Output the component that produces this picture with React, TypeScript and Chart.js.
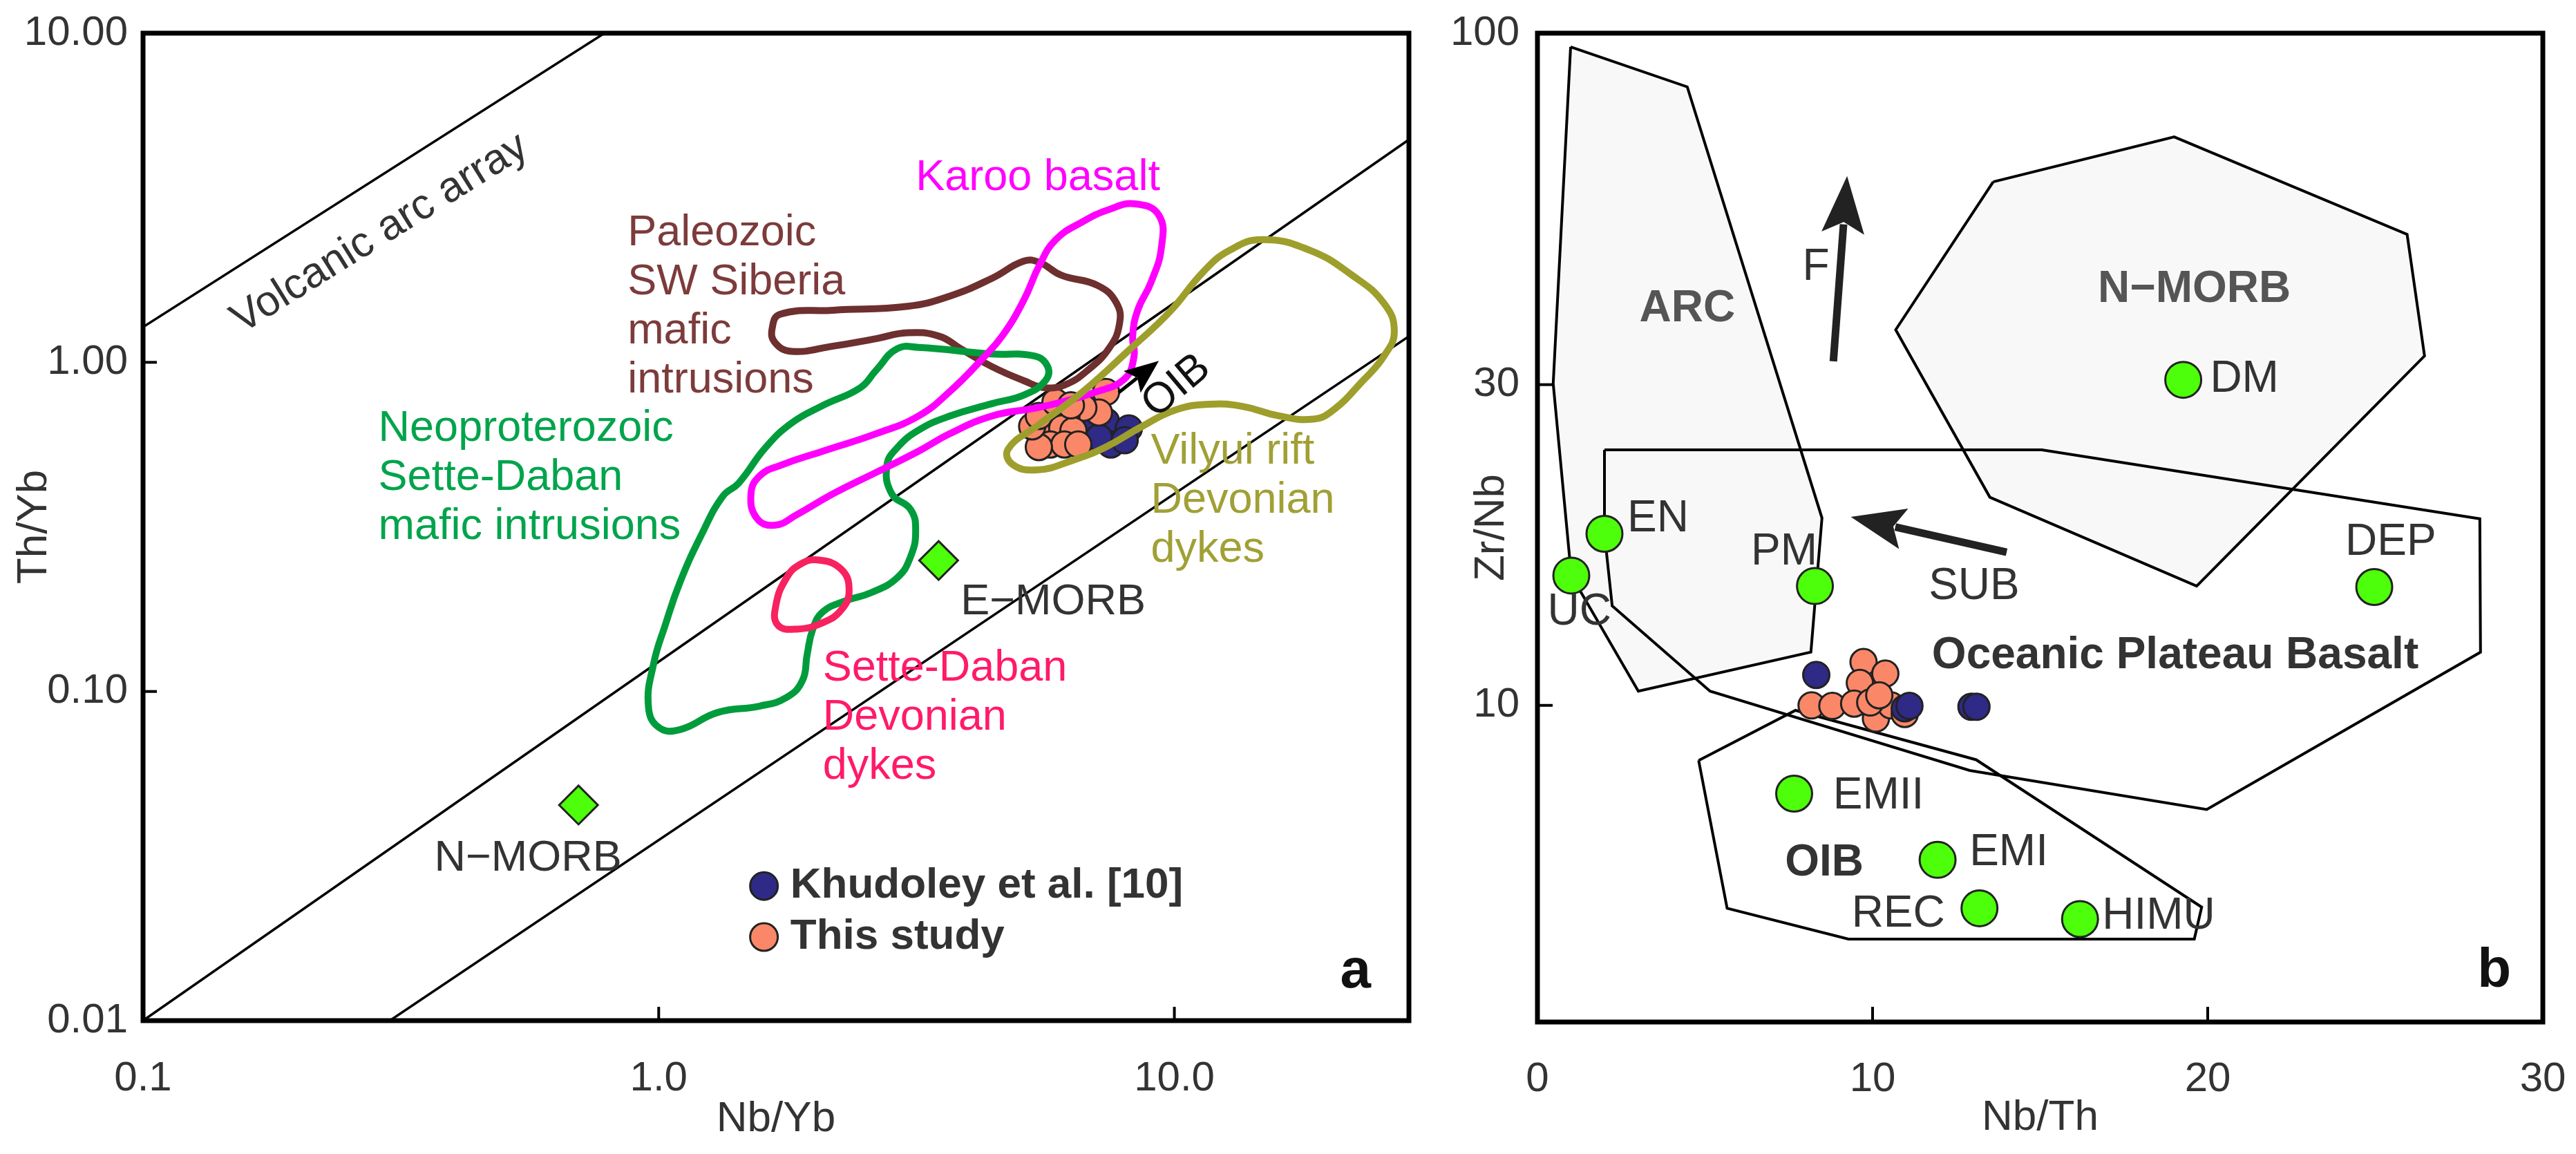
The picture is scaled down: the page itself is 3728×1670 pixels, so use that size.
import React, { useEffect, useRef } from 'react';
import { Chart, registerables } from 'chart.js';

Chart.register(...registerables);

const FONT = '"Liberation Sans", Arial, Helvetica, sans-serif';

type Pair = [number, number];

// ---------------- Panel a : Th/Yb vs Nb/Yb ----------------
const nbYbTicks = [0.1, 1, 10];
const thYbTicks = [0.01, 0.1, 1, 10];

const volcanicArcArray: Pair[] = [[0.1, 1.28], [0.785, 10]];
const morbOibUpper: Pair[] = [[0.1, 0.01], [28.5, 4.75]];
const morbOibLower: Pair[] = [[0.301, 0.01], [28.5, 1.2]];

const karooBasalt: Pair[] = [
  [8.39, 3.03], [9.33, 2.8], [9.44, 2.24], [9.01, 1.75], [8.49, 1.44], [8.3, 1.2], [8.35, 1.04],
  [8.0, 0.89], [7.0, 0.81], [6.0, 0.755], [5.35, 0.725], [4.43, 0.687], [3.67, 0.607], [3.19, 0.537],
  [2.64, 0.463], [2.18, 0.399], [1.85, 0.344], [1.68, 0.32], [1.55, 0.336], [1.51, 0.399],
  [1.57, 0.452], [1.72, 0.486], [2.08, 0.537], [2.64, 0.607], [3.19, 0.687], [3.67, 0.816],
  [4.23, 1.02], [4.65, 1.21], [5.11, 1.55], [5.48, 1.98], [5.89, 2.36], [6.63, 2.67], [7.46, 2.91],
];

const paleozoicSiberia: Pair[] = [
  [1.66, 1.27], [1.72, 1.4], [2.18, 1.44], [3.04, 1.48], [3.67, 1.59], [4.43, 1.8], [5.11, 2.03],
  [5.48, 2.01], [6.03, 1.84], [7.11, 1.71], [7.73, 1.51], [7.82, 1.3], [7.46, 1.1], [6.79, 0.946],
  [6.17, 0.858], [5.62, 0.837], [5.11, 0.879], [4.43, 0.97], [3.85, 1.1], [3.5, 1.2], [3.04, 1.23],
  [2.64, 1.18], [2.18, 1.12], [1.81, 1.08], [1.68, 1.15],
];

const neoproterozoicSetteDaban: Pair[] = [
  [2.9, 1.1], [3.19, 1.11], [4.43, 1.06], [5.35, 1.045], [5.68, 0.97], [5.62, 0.879], [5.11, 0.796],
  [4.43, 0.749], [3.67, 0.687], [3.19, 0.622], [2.9, 0.55], [2.77, 0.486], [2.83, 0.399], [3.08, 0.357],
  [3.15, 0.308], [3.08, 0.257], [2.9, 0.2215], [2.58, 0.1995], [2.29, 0.188], [2.08, 0.1744],
  [1.99, 0.1547], [1.94, 0.1293], [1.9, 0.108], [1.77, 0.0959], [1.57, 0.0903], [1.3, 0.0863],
  [1.1, 0.0766], [1.0, 0.0778], [0.955, 0.0903], [0.978, 0.1218], [1.03, 0.1594], [1.1, 0.215],
  [1.21, 0.299], [1.33, 0.391], [1.43, 0.43], [1.61, 0.55], [1.81, 0.654], [2.08, 0.739],
  [2.46, 0.837], [2.64, 0.946],
];

const vilyuiRift: Pair[] = [
  [14.8, 2.36], [18.3, 2.19], [22.1, 1.84], [25.5, 1.51], [26.7, 1.24], [25.5, 1.045], [23.2, 0.879],
  [20.3, 0.715], [18.6, 0.672], [15.9, 0.688], [13.6, 0.734], [11.7, 0.746], [10.03, 0.716],
  [8.6, 0.635], [7.36, 0.553], [6.31, 0.502], [5.41, 0.471], [4.85, 0.49], [4.76, 0.545],
  [5.41, 0.64], [6.65, 0.815], [8.17, 1.09], [9.82, 1.43], [11.4, 1.89], [12.8, 2.19],
];

const setteDabanDevonian: Pair[] = [
  [2.03, 0.251], [2.26, 0.235], [2.34, 0.2024], [2.26, 0.177], [2.08, 0.1618], [1.85, 0.1547],
  [1.7, 0.1594], [1.69, 0.185], [1.77, 0.2215], [1.87, 0.242],
];

const morbReferenceA: Pair[] = [[0.699, 0.0452], [3.49, 0.25]];

const khudoleyA: Pair[] = [
  [6.86, 0.63], [7.37, 0.661], [8.16, 0.63], [7.53, 0.563], [7.14, 0.591], [8.01, 0.58],
];
const thisStudyA: Pair[] = [
  [7.37, 0.813], [7.14, 0.704], [6.66, 0.728], [6.18, 0.694], [5.88, 0.728], [5.63, 0.639],
  [6.06, 0.63], [6.37, 0.62], [5.75, 0.563], [6.12, 0.563], [6.51, 0.563], [5.46, 0.553],
  [5.3, 0.639], [5.46, 0.687], [5.88, 0.757], [6.3, 0.74],
];
const oibArrowA: Pair[] = [[7.8, 0.81], [9.33, 1.01]];

// ---------------- Panel b : Zr/Nb vs Nb/Th ----------------
const nbThTicks = [0, 10, 20, 30];
const zrNbTicks = [10, 30, 100];

const arcField: Pair[] = [
  [0.99, 95.4], [4.47, 83.2], [8.49, 19.0], [8.16, 12.0], [3.01, 10.5], [1.01, 15.6], [0.47, 30.1],
];
const nMorbField: Pair[] = [
  [13.6, 60.1], [19.0, 70.1], [25.95, 50.2], [26.47, 33.1], [19.67, 15.05], [13.5, 20.4], [10.69, 36.2],
];
const plateauField: Pair[] = [
  [2.0, 24.0], [15.05, 24.0], [28.12, 18.95], [28.14, 12.0], [19.97, 7.0], [12.9, 8.0],
  [5.15, 10.5], [2.23, 14.06], [2.0, 18.0],
];
const oibField: Pair[] = [
  [4.81, 8.28], [7.7, 9.83], [13.09, 8.3], [19.82, 5.01], [19.6, 4.49], [9.28, 4.49], [5.66, 4.99],
];
const mantleEndMembers: Pair[] = [
  [1.01, 15.6], [2.0, 18.0], [8.28, 15.05], [19.27, 30.5], [24.97, 15.0],
  [7.66, 7.39], [11.94, 5.89], [13.19, 4.99], [16.19, 4.81],
];
const khudoleyB: Pair[] = [[8.32, 11.1], [10.96, 9.9], [11.1, 9.98], [12.95, 9.95], [13.1, 9.95]];
const thisStudyB: Pair[] = [
  [9.73, 11.6], [10.38, 11.15], [9.62, 10.8], [8.18, 10.0], [8.8, 9.98], [9.45, 10.06],
  [10.1, 9.56], [10.55, 10.0], [10.96, 9.71], [9.93, 10.1], [10.2, 10.35],
];
const fArrow: Pair[] = [[8.83, 32.5], [9.24, 61.3]];
const subArrow: Pair[] = [[14.0, 16.9], [9.35, 19.07]];

// ---------------- helpers ----------------
const toXY = (a: Pair[]) => a.map(([x, y]) => ({ x, y }));
const loopData = (a: Pair[]) => toXY([a[a.length - 1], ...a, a[0], a[1]]);
const closedData = (a: Pair[]) => toXY([...a, a[0]]);

const ORANGE = '#fa8868';
const BLUE = '#2f2a86';
const LIME = '#4dff0a';

function contour(label: string, pts: Pair[], color: string, order: number) {
  const n = pts.length;
  return {
    label,
    data: loopData(pts),
    showLine: true,
    borderColor: color,
    backgroundColor: color,
    borderWidth: 10,
    tension: 0.45,
    pointRadius: 0,
    pointHoverRadius: 0,
    fill: false,
    order,
    borderCapStyle: 'round',
    borderJoinStyle: 'round',
    segment: {
      borderColor: (c: any) =>
        c.p0DataIndex === 0 || c.p0DataIndex === n + 1 ? 'rgba(0,0,0,0)' : undefined,
    },
  };
}

function refLine(label: string, pts: Pair[], order: number, width = 3.5) {
  return {
    label,
    data: toXY(pts),
    showLine: true,
    borderColor: '#000',
    backgroundColor: '#000',
    borderWidth: width,
    pointRadius: 0,
    pointHoverRadius: 0,
    tension: 0,
    fill: false,
    order,
    clip: 0,
  };
}

function polygon(label: string, pts: Pair[], fillColor: string | null, order: number) {
  return {
    label,
    data: closedData(pts),
    showLine: true,
    borderColor: '#000',
    backgroundColor: fillColor || 'rgba(0,0,0,0)',
    borderWidth: 4,
    pointRadius: 0,
    pointHoverRadius: 0,
    tension: 0,
    fill: fillColor ? 'shape' : false,
    borderJoinStyle: 'miter',
    order,
  };
}

function dots(label: string, pts: Pair[], color: string, radius: number, order: number, style = 'circle') {
  return {
    label,
    data: toXY(pts),
    showLine: false,
    pointStyle: style,
    pointRadius: radius,
    pointHoverRadius: radius,
    backgroundColor: color,
    pointBackgroundColor: color,
    borderColor: '#222',
    pointBorderColor: '#222',
    pointBorderWidth: 3,
    borderWidth: 3,
    order,
  };
}

// ---------------- plugins ----------------
const framePlugin = {
  id: 'frame',
  afterDatasetsDraw(chart: any, _args: any, opts: any) {
    const { ctx, chartArea: a, scales } = chart;
    ctx.save();
    ctx.strokeStyle = '#000';
    ctx.lineWidth = 4;
    for (const v of opts.xTicks || []) {
      const px = scales.x.getPixelForValue(v);
      ctx.beginPath();
      ctx.moveTo(px, a.bottom);
      ctx.lineTo(px, a.bottom - opts.tickLen);
      ctx.stroke();
    }
    for (const v of opts.yTicks || []) {
      const py = scales.y.getPixelForValue(v);
      ctx.beginPath();
      ctx.moveTo(a.left, py);
      ctx.lineTo(a.left + opts.tickLen, py);
      ctx.stroke();
    }
    ctx.lineWidth = 7;
    ctx.lineJoin = 'miter';
    ctx.strokeRect(a.left, a.top, a.right - a.left, a.bottom - a.top);
    ctx.restore();
  },
};

const notesPlugin = {
  id: 'notes',
  afterDatasetsDraw(chart: any, _args: any, opts: any) {
    const { ctx, chartArea: area, scales } = chart;
    const X = (v: number) => scales.x.getPixelForValue(v);
    const Y = (v: number) => scales.y.getPixelForValue(v);
    ctx.save();
    for (const ar of opts.arrows || []) {
      const x1 = X(ar.pts[0][0]);
      const y1 = Y(ar.pts[0][1]);
      const x2 = X(ar.pts[1][0]);
      const y2 = Y(ar.pts[1][1]);
      const ang = Math.atan2(y2 - y1, x2 - x1);
      const c = Math.cos(ang);
      const s = Math.sin(ang);
      const bx = x2 - c * ar.head;
      const by = y2 - s * ar.head;
      ctx.strokeStyle = ar.color;
      ctx.fillStyle = ar.color;
      ctx.lineWidth = ar.width;
      ctx.beginPath();
      ctx.moveTo(x1, y1);
      ctx.lineTo(bx + c * 4, by + s * 4);
      ctx.stroke();
      ctx.beginPath();
      ctx.moveTo(x2, y2);
      ctx.lineTo(bx - c * ar.head * 0.12 + s * ar.headW / 2, by - s * ar.head * 0.12 - c * ar.headW / 2);
      ctx.lineTo(bx + c * ar.head * 0.1, by + s * ar.head * 0.1);
      ctx.lineTo(bx - c * ar.head * 0.12 - s * ar.headW / 2, by - s * ar.head * 0.12 + c * ar.headW / 2);
      ctx.closePath();
      ctx.fill();
    }
    for (const d of opts.markers || []) {
      ctx.beginPath();
      ctx.arc(X(d.x), Y(d.y), d.r, 0, Math.PI * 2);
      ctx.fillStyle = d.color;
      ctx.fill();
      ctx.lineWidth = 3;
      ctx.strokeStyle = '#222';
      ctx.stroke();
    }
    for (const t of opts.texts || []) {
      let px: number;
      let py: number;
      if (t.corner) {
        px = area.right + t.dx;
        py = area.bottom + t.dy;
      } else {
        px = X(t.x);
        py = Y(t.y);
      }
      ctx.save();
      ctx.translate(px, py);
      if (t.rot) ctx.rotate((t.rot * Math.PI) / 180);
      ctx.font = `${t.bold ? 'bold ' : ''}${t.size}px ${FONT}`;
      ctx.fillStyle = t.color;
      ctx.textAlign = t.align || 'left';
      ctx.textBaseline = t.baseline || 'alphabetic';
      t.lines.forEach((line: string, i: number) => ctx.fillText(line, 0, i * (t.gap || 71)));
      ctx.restore();
    }
    ctx.restore();
  },
};

const tickFont = { family: FONT, size: 60, lineHeight: 1 };
const titleFont = { family: FONT, size: 62, lineHeight: 1 };
const TXT = '#333';

function leftConfig(): any {
  return {
    type: 'scatter',
    data: {
      datasets: [
        contour('Sette-Daban Devonian dykes', setteDabanDevonian, '#f7225f', 0),
        contour('Vilyui rift Devonian dykes', vilyuiRift, '#9e9e2c', 1),
        contour('Karoo basalt', karooBasalt, '#ff00ff', 2),
        contour('Neoproterozoic Sette-Daban mafic intrusions', neoproterozoicSetteDaban, '#009c3c', 3),
        contour('Paleozoic SW Siberia mafic intrusions', paleozoicSiberia, '#6e2f2f', 4),
        dots('This study', thisStudyA, ORANGE, 19, 6),
        dots('Khudoley et al. [10]', khudoleyA, BLUE, 19, 7),
        dots('MORB', morbReferenceA, LIME, 28, 5, 'rectRot'),
        refLine('Volcanic arc array', volcanicArcArray, 9),
        refLine('MORB-OIB upper', morbOibUpper, 9),
        refLine('MORB-OIB lower', morbOibLower, 9),
      ],
    },
    options: {
      responsive: false,
      animation: false,
      devicePixelRatio: 1,
      events: [],
      layout: { padding: { left: 0, top: 48, right: 61, bottom: 0 } },
      plugins: {
        legend: { display: false },
        tooltip: { enabled: false },
        filler: { drawTime: 'beforeDatasetsDraw' },
        frame: { xTicks: [1, 10], yTicks: [0.1, 1], tickLen: 20 },
        notes: {
          arrows: [{ pts: oibArrowA, color: '#000', width: 5, head: 44, headW: 40 }],
          markers: [
            { x: 1.6, y: 0.02565, r: 20, color: BLUE },
            { x: 1.6, y: 0.01795, r: 20, color: ORANGE },
          ],
          texts: [
            { lines: ['Volcanic arc array'], x: 0.288, y: 2.46, color: TXT, size: 62, align: 'center', baseline: 'middle', rot: -32 },
            { lines: ['Karoo basalt'], x: 3.15, y: 3.33, color: '#ff00ff', size: 63 },
            { lines: ['Paleozoic', 'SW Siberia', 'mafic', 'intrusions'], x: 0.87, y: 2.27, color: '#7d3b3b', size: 63 },
            { lines: ['Neoproterozoic', 'Sette-Daban', 'mafic intrusions'], x: 0.286, y: 0.577, color: '#00a44c', size: 63 },
            { lines: ['Vilyui rift', 'Devonian', 'dykes'], x: 9.0, y: 0.492, color: '#a0a036', size: 63 },
            { lines: ['Sette-Daban', 'Devonian', 'dykes'], x: 2.08, y: 0.108, color: '#ff1a6a', size: 63 },
            { lines: ['E−MORB'], x: 3.85, y: 0.1715, color: TXT, size: 63 },
            { lines: ['N−MORB'], x: 0.367, y: 0.0285, color: TXT, size: 63 },
            { lines: ['OIB'], x: 10.1, y: 0.845, color: '#111', size: 62, align: 'center', baseline: 'middle', rot: -40 },
            { lines: ['Khudoley et al. [10]'], x: 1.8, y: 0.02565, color: TXT, size: 62, bold: true, baseline: 'middle' },
            { lines: ['This study'], x: 1.8, y: 0.01795, color: TXT, size: 62, bold: true, baseline: 'middle' },
            { lines: ['a'], corner: true, dx: -55, dy: -48, color: '#111', size: 80, bold: true, align: 'right' },
          ],
        },
      },
      scales: {
        x: {
          type: 'logarithmic',
          min: 0.1,
          max: 28.5,
          bounds: 'data',
          grid: { display: false },
          border: { display: false },
          afterBuildTicks: (s: any) => {
            s.ticks = nbYbTicks.map((v) => ({ value: v }));
          },
          afterFit: (s: any) => {
            s.height = 193;
          },
          ticks: {
            autoSkip: false,
            maxRotation: 0,
            minRotation: 0,
            padding: 46,
            color: TXT,
            font: tickFont,
            callback: (v: any) => Number(v).toFixed(1),
          },
          title: { display: true, text: 'Nb/Yb', color: TXT, font: titleFont, padding: { top: 0, bottom: 19 } },
        },
        y: {
          type: 'logarithmic',
          min: 0.01,
          max: 10,
          bounds: 'data',
          grid: { display: false },
          border: { display: false },
          afterBuildTicks: (s: any) => {
            s.ticks = thYbTicks.map((v) => ({ value: v }));
          },
          afterFit: (s: any) => {
            s.width = 207;
          },
          ticks: {
            autoSkip: false,
            padding: 14,
            color: TXT,
            font: tickFont,
            callback: (v: any) => Number(v).toFixed(2),
          },
          title: { display: true, text: 'Th/Yb', color: TXT, font: titleFont, padding: { top: 19, bottom: 0 } },
        },
      },
    },
    plugins: [notesPlugin, framePlugin],
  };
}

function rightConfig(): any {
  return {
    type: 'scatter',
    data: {
      datasets: [
        dots('Mantle and crust reservoirs', mantleEndMembers, LIME, 26, 0),
        dots('Khudoley et al. [10]', khudoleyB, BLUE, 19, 1),
        dots('This study', thisStudyB, ORANGE, 19, 2),
        polygon('OIB', oibField, null, 5),
        polygon('Oceanic Plateau Basalt', plateauField, null, 6),
        polygon('N-MORB', nMorbField, '#f8f8f8', 7),
        polygon('ARC', arcField, '#f8f8f8', 8),
      ],
    },
    options: {
      responsive: false,
      animation: false,
      devicePixelRatio: 1,
      events: [],
      layout: { padding: { left: 0, top: 48, right: 80, bottom: 0 } },
      plugins: {
        legend: { display: false },
        tooltip: { enabled: false },
        filler: { drawTime: 'beforeDatasetsDraw' },
        frame: { xTicks: [10, 20], yTicks: [10, 30], tickLen: 22 },
        notes: {
          arrows: [
            { pts: fArrow, color: '#222', width: 11, head: 74, headW: 62 },
            { pts: subArrow, color: '#222', width: 11, head: 70, headW: 60 },
          ],
          texts: [
            { lines: ['ARC'], x: 4.47, y: 38.9, color: '#555', size: 64, bold: true, align: 'center', baseline: 'middle' },
            { lines: ['N−MORB'], x: 19.6, y: 41.5, color: '#555', size: 64, bold: true, align: 'center', baseline: 'middle' },
            { lines: ['F'], x: 8.31, y: 44.8, color: TXT, size: 64, align: 'center', baseline: 'middle' },
            { lines: ['DM'], x: 20.07, y: 30.5, color: TXT, size: 64, baseline: 'middle' },
            { lines: ['EN'], x: 2.68, y: 18.9, color: TXT, size: 64, baseline: 'middle' },
            { lines: ['PM'], x: 8.35, y: 16.9, color: TXT, size: 64, align: 'right', baseline: 'middle' },
            { lines: ['UC'], x: 0.3, y: 13.75, color: TXT, size: 64, baseline: 'middle' },
            { lines: ['SUB'], x: 13.03, y: 15.0, color: TXT, size: 64, align: 'center', baseline: 'middle' },
            { lines: ['DEP'], x: 25.46, y: 17.45, color: TXT, size: 64, align: 'center', baseline: 'middle' },
            { lines: ['Oceanic Plateau Basalt'], x: 11.77, y: 11.83, color: TXT, size: 64, bold: true, baseline: 'middle' },
            { lines: ['EMII'], x: 8.82, y: 7.33, color: TXT, size: 64, baseline: 'middle' },
            { lines: ['OIB'], x: 8.56, y: 5.82, color: TXT, size: 64, bold: true, align: 'center', baseline: 'middle' },
            { lines: ['EMI'], x: 12.89, y: 6.03, color: TXT, size: 64, baseline: 'middle' },
            { lines: ['REC'], x: 12.16, y: 4.88, color: TXT, size: 64, align: 'right', baseline: 'middle' },
            { lines: ['HIMU'], x: 16.85, y: 4.85, color: TXT, size: 64, baseline: 'middle' },
            { lines: ['b'], corner: true, dx: -46, dy: -51, color: '#111', size: 80, bold: true, align: 'right' },
          ],
        },
      },
      scales: {
        x: {
          type: 'linear',
          min: 0,
          max: 30,
          grid: { display: false },
          border: { display: false },
          afterBuildTicks: (s: any) => {
            s.ticks = nbThTicks.map((v) => ({ value: v }));
          },
          afterFit: (s: any) => {
            s.height = 191;
          },
          ticks: {
            autoSkip: false,
            maxRotation: 0,
            minRotation: 0,
            padding: 45,
            color: TXT,
            font: tickFont,
            callback: (v: any) => String(v),
          },
          title: { display: true, text: 'Nb/Th', color: TXT, font: titleFont, padding: { top: 0, bottom: 21 } },
        },
        y: {
          type: 'logarithmic',
          min: 3.38,
          max: 100,
          bounds: 'data',
          grid: { display: false },
          border: { display: false },
          afterBuildTicks: (s: any) => {
            s.ticks = zrNbTicks.map((v) => ({ value: v }));
          },
          afterFit: (s: any) => {
            s.width = 125;
          },
          ticks: {
            autoSkip: false,
            padding: 18,
            color: TXT,
            font: tickFont,
            callback: (v: any) => String(v),
          },
          title: { display: true, text: 'Zr/Nb', color: TXT, font: titleFont, padding: { top: 28, bottom: 0 } },
        },
      },
    },
    plugins: [notesPlugin, framePlugin],
  };
}

export default function App() {
  const leftRef = useRef<HTMLCanvasElement>(null);
  const rightRef = useRef<HTMLCanvasElement>(null);

  useEffect(() => {
    const a = new Chart(leftRef.current as HTMLCanvasElement, leftConfig());
    const b = new Chart(rightRef.current as HTMLCanvasElement, rightConfig());
    return () => {
      a.destroy();
      b.destroy();
    };
  }, []);

  return (
    <div
      style={{
        position: 'absolute',
        left: 0,
        top: 0,
        width: 3728,
        height: 1670,
        overflow: 'hidden',
        background: '#fff',
      }}
    >
      <canvas
        ref={leftRef}
        width={2100}
        height={1670}
        style={{ position: 'absolute', left: 0, top: 0, width: 2100, height: 1670 }}
      />
      <canvas
        ref={rightRef}
        width={1660}
        height={1670}
        style={{ position: 'absolute', left: 2100, top: 0, width: 1660, height: 1670 }}
      />
    </div>
  );
}
